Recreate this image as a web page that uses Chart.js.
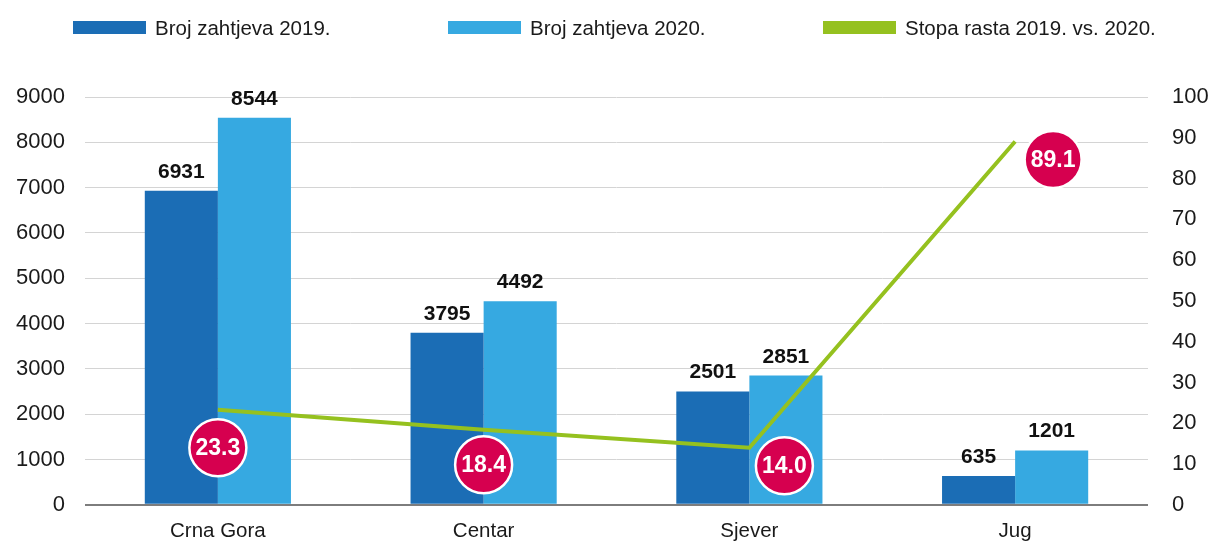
<!DOCTYPE html>
<html lang="sr">
<head>
<meta charset="utf-8">
<title>Broj zahtjeva 2019. i 2020.</title>
<script src="https://cdn.jsdelivr.net/npm/chart.js@4.4.1/dist/chart.umd.min.js"></script>
<style>
  html, body { margin: 0; padding: 0; background: #fff; }
  .wrap { position: relative; width: 1217px; height: 542px; }
  #legenda {
    position: absolute; top: 0; left: 0; height: 55px;
    display: flex; align-items: center; padding-left: 73px;
    font-family: "Liberation Sans", Arial, sans-serif; font-size: 20.5px; color: #1a1a1a;
  }
  #legenda .stavka { display: flex; align-items: center; width: 375px; }
  #legenda .kutija { width: 73px; height: 13px; margin-right: 9px; }
</style>
</head>
<body>
<div class="wrap">
  <canvas id="zahtjeviChart" width="1217" height="542"></canvas>
  <div id="legenda"></div>
</div>
<script>
// Podaci po regijama
const regije = ['Crna Gora', 'Centar', 'Sjever', 'Jug'];
const zahtjevi2019 = [6931, 3795, 2501, 635];
const zahtjevi2020 = [8544, 4492, 2851, 1201];
const stopaRasta = [23.3, 18.4, 14.0, 89.1];
const lijeveOznake = [0, 1000, 2000, 3000, 4000, 5000, 6000, 7000, 8000, 9000];
const desneOznake = [0, 10, 20, 30, 40, 50, 60, 70, 80, 90, 100];

const FONT = '"Liberation Sans", Arial, sans-serif';
const PLAVA = '#1b6db5';
const SVIJETLO_PLAVA = '#36a9e1';
const ZELENA = '#95c11f';
const CRVENA = '#d6004f';

// Vrijednosti iznad stubića
const oznakeStubica = {
    id: 'oznakeStubica',
    afterDatasetsDraw(chart) {
        const ctx = chart.ctx;
        ctx.save();
        ctx.font = 'bold 21px ' + FONT;
        ctx.fillStyle = '#111';
        ctx.textAlign = 'center';
        ctx.textBaseline = 'alphabetic';
        chart.data.datasets.forEach((ds, i) => {
            if (ds.type === 'line') return;
            chart.getDatasetMeta(i).data.forEach((bar, j) => {
                ctx.fillText(String(ds.data[j]), bar.x, bar.y - 13);
            });
        });
        ctx.restore();
    }
};

// Kružići sa stopom rasta
const kruziciRasta = {
    id: 'kruziciRasta',
    afterDatasetsDraw(chart, args, opts) {
        const ctx = chart.ctx;
        const idx = chart.data.datasets.findIndex(ds => ds.type === 'line');
        const ds = chart.data.datasets[idx];
        ctx.save();
        chart.getDatasetMeta(idx).data.forEach((pt, j) => {
            const [dx, dy] = opts.pomaci[j];
            const x = pt.x + dx, y = pt.y + dy;
            ctx.beginPath();
            ctx.arc(x, y, 28.5, 0, Math.PI * 2);
            ctx.fillStyle = CRVENA;
            ctx.fill();
            ctx.lineWidth = 2.5;
            ctx.strokeStyle = '#fff';
            ctx.stroke();
            ctx.fillStyle = '#fff';
            ctx.font = 'bold 23px ' + FONT;
            ctx.textAlign = 'center';
            ctx.textBaseline = 'middle';
            ctx.fillText(ds.data[j].toFixed(1), x, y + 1);
        });
        ctx.restore();
    }
};

function postaviOznake(oznake) {
    return scale => { scale.ticks = oznake.map(v => ({ value: v })); };
}

const chart = new Chart(document.getElementById('zahtjeviChart'), {
    data: {
        labels: regije,
        datasets: [
            {
                type: 'line',
                label: 'Stopa rasta 2019. vs. 2020.',
                data: stopaRasta,
                yAxisID: 'y1',
                borderColor: ZELENA,
                backgroundColor: ZELENA,
                borderWidth: 4,
                pointRadius: 0,
                tension: 0,
                order: 0
            },
            {
                type: 'bar',
                label: 'Broj zahtjeva 2019.',
                data: zahtjevi2019,
                backgroundColor: PLAVA,
                yAxisID: 'y',
                categoryPercentage: 0.55,
                barPercentage: 1,
                order: 1
            },
            {
                type: 'bar',
                label: 'Broj zahtjeva 2020.',
                data: zahtjevi2020,
                backgroundColor: SVIJETLO_PLAVA,
                yAxisID: 'y',
                categoryPercentage: 0.55,
                barPercentage: 1,
                order: 1
            }
        ]
    },
    options: {
        responsive: false,
        animation: false,
        devicePixelRatio: 1,
        layout: { padding: { top: 97, left: 0, right: 0, bottom: 0 } },
        plugins: {
            legend: { display: false },
            tooltip: { enabled: false },
            kruziciRasta: {
                pomaci: [[0, 38], [0, 35], [35, 18], [38, 18]]
            }
        },
        scales: {
            x: {
                grid: { display: false },
                border: { display: false },
                ticks: { font: { family: FONT, size: 20.5 }, color: '#1a1a1a', padding: 6 },
                afterFit: s => { s.height = 37; }
            },
            y: {
                position: 'left',
                min: lijeveOznake[0],
                max: lijeveOznake[lijeveOznake.length - 1],
                afterBuildTicks: postaviOznake(lijeveOznake),
                grid: {
                    color: c => c.tick && c.tick.value === 0 ? '#7d7d7d' : '#d4d4d4',
                    lineWidth: c => c.tick && c.tick.value === 0 ? 2 : 1,
                    drawTicks: false
                },
                border: { display: false },
                ticks: {
                    font: { family: FONT, size: 22 }, color: '#1a1a1a', padding: 20,
                    callback: v => String(v)
                },
                afterFit: s => { s.width = 85; }
            },
            y1: {
                position: 'right',
                min: desneOznake[0],
                max: desneOznake[desneOznake.length - 1],
                afterBuildTicks: postaviOznake(desneOznake),
                grid: { display: false, drawTicks: false },
                border: { display: false },
                ticks: {
                    font: { family: FONT, size: 22 }, color: '#1a1a1a', padding: 24,
                    callback: v => String(v)
                },
                afterFit: s => { s.width = 69; }
            }
        }
    },
    plugins: [oznakeStubica, kruziciRasta]
});

// Legenda u HTML-u, redoslijed kao na grafikonu
const legenda = document.getElementById('legenda');
[1, 2, 0].forEach(i => {
    const ds = chart.data.datasets[i];
    const stavka = document.createElement('div');
    stavka.className = 'stavka';
    const kutija = document.createElement('span');
    kutija.className = 'kutija';
    kutija.style.background = ds.backgroundColor;
    const tekst = document.createElement('span');
    tekst.textContent = ds.label;
    stavka.appendChild(kutija);
    stavka.appendChild(tekst);
    legenda.appendChild(stavka);
});
</script>
</body>
</html>
